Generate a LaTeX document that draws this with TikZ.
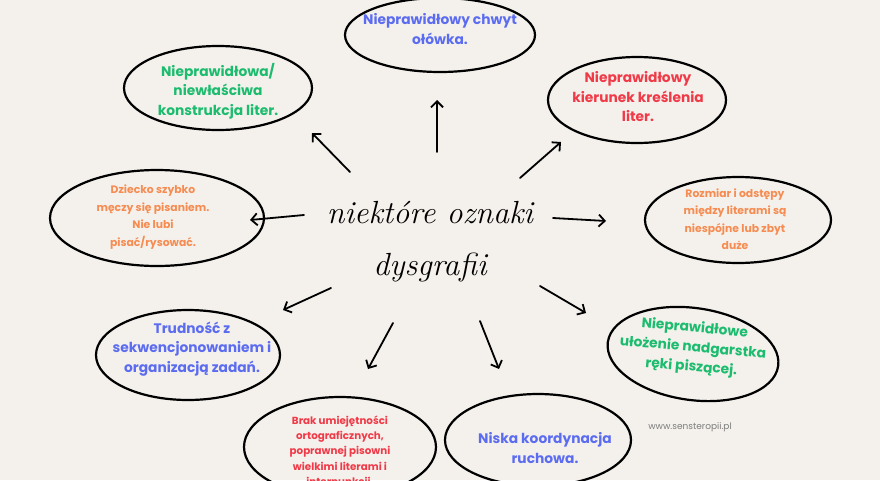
\documentclass[tikz,border=0pt]{standalone}
\usepackage{fontspec}
\setsansfont{Poppins}
\usetikzlibrary{shapes.geometric, arrows.meta, positioning, calc}
\definecolor{mybg}{RGB}{244,241,236}
\definecolor{myblue}{RGB}{92,108,240}
\definecolor{mygreen}{RGB}{28,188,110}
\definecolor{myred}{RGB}{240,58,72}
\definecolor{myorange}{RGB}{246,140,82}
\definecolor{mygrey}{RGB}{125,125,125}
\tikzset{
  bubble/.style={align=center, inner sep=0pt,
    font=\sffamily\bfseries\fontsize{13.8}{19.5}\selectfont},
  smallbubble/.style={align=center, inner sep=0pt,
    font=\sffamily\bfseries\fontsize{10.8}{17.5}\selectfont},
  tinybubble/.style={align=center, inner sep=0pt,
    font=\sffamily\bfseries\fontsize{10.3}{15.3}\selectfont},
  ring/.style={draw=black, line width=2.2pt},
  hand/.style={font=\itshape\fontsize{32}{38}\selectfont},
  arrow/.style={-{Straight Barb[length=6pt,width=12pt]}, line width=1.8pt, line cap=round, color=black}
}

\begin{document}
\begin{tikzpicture}[x=1pt, y=-1pt]
  \useasboundingbox (0,0) rectangle (880,480);
  \fill[mybg] (0,0) rectangle (880,480);
  \clip (0,0) rectangle (880,480);

  % centre
  \node[hand] (title) at (430,213) {niektóre oznaki};
  \node[hand, below=22pt of title] (title2) {dysgrafii};

  % bubbles
  \node[bubble, text=myblue] (chwyt) at (440,29) {Nieprawidłowy chwyt\\ołówka.};
  \draw[ring] (440,35) ellipse [x radius=95pt, y radius=37pt];

  \node[bubble, text=mygreen] (konstr) at (218,91) {Nieprawidłowa/\\niewłaściwa\\konstrukcja liter.};
  \draw[ring] (218,88) ellipse [x radius=94pt, y radius=42pt];

  \node[bubble, text=myred] (kierunek) at (638,97) {Nieprawidłowy\\kierunek kreślenia\\liter.};
  \draw[ring] (637,100) ellipse [x radius=89pt, y radius=43pt];

  \node[smallbubble, text=myorange] (meczy) at (153,217) {Dziecko szybko\\męczy się pisaniem.\\Nie lubi\\pisać/rysować.};
  \draw[ring] (157,218) ellipse [x radius=107pt, y radius=48pt];

  \node[smallbubble, text=myorange] (rozmiar) at (735,219) {Rozmiar i odstępy\\między literami są\\niespójne lub zbyt\\duże};
  \draw[ring] (738,220) ellipse [x radius=93pt, y radius=43pt];

  \node[bubble, text=myblue] (sekw) at (192,349) {Trudność z\\sekwencjonowaniem i\\organizacją zadań.};
  \draw[ring] (188,355) ellipse [x radius=92pt, y radius=45pt];

  \node[bubble, text=mygreen, rotate=-5] (nadg) at (693,348) {Nieprawidłowe\\ułożenie nadgarstka\\ręki piszącej.};
  \draw[ring, rotate around={-8:(693,354)}] (693,354) ellipse [x radius=86pt, y radius=46pt];

  \node[tinybubble, text=myred] (brak) at (340,452) {Brak umiejętności\\ortograficznych,\\poprawnej pisowni\\wielkimi literami i\\interpunkcji.};
  \draw[ring] (340,447) ellipse [x radius=96pt, y radius=50pt];

  \node[bubble, text=myblue] (koord) at (545,448) {Niska koordynacja\\ruchowa.};
  \draw[ring] (538,440) ellipse [x radius=93pt, y radius=46pt];

  \node[font=\sffamily\fontsize{9}{11}\selectfont, text=mygrey] (www) at (690,427) {www.sensteropii.pl};

  % arrow ends
  \coordinate (upT) at (437,152);  \coordinate (upH) at (437,100);
  \coordinate (ulT) at (350,172);  \coordinate (ulH) at (312,133);
  \coordinate (urT) at (520,178);  \coordinate (urH) at (561,142);
  \coordinate (lT) at (304,215);   \coordinate (lH) at (250,220);
  \coordinate (rT) at (553,218);   \coordinate (rH) at (606,221);
  \coordinate (llT) at (331,288);  \coordinate (llH) at (283,310);
  \coordinate (dlT) at (393,323);  \coordinate (dlH) at (368,369);
  \coordinate (drT) at (480,321);  \coordinate (drH) at (499,369);
  \coordinate (lrT) at (540,286);  \coordinate (lrH) at (586,313);

  \draw[arrow] (upT) -- (upH);
  \draw[arrow] (ulT) -- (ulH);
  \draw[arrow] (urT) -- (urH);
  \draw[arrow] (lT) -- (lH);
  \draw[arrow] (rT) -- (rH);
  \draw[arrow] (llT) -- (llH);
  \draw[arrow] (dlT) -- (dlH);
  \draw[arrow] (drT) -- (drH);
  \draw[arrow] (lrT) -- (lrH);
\end{tikzpicture}
\end{document}
